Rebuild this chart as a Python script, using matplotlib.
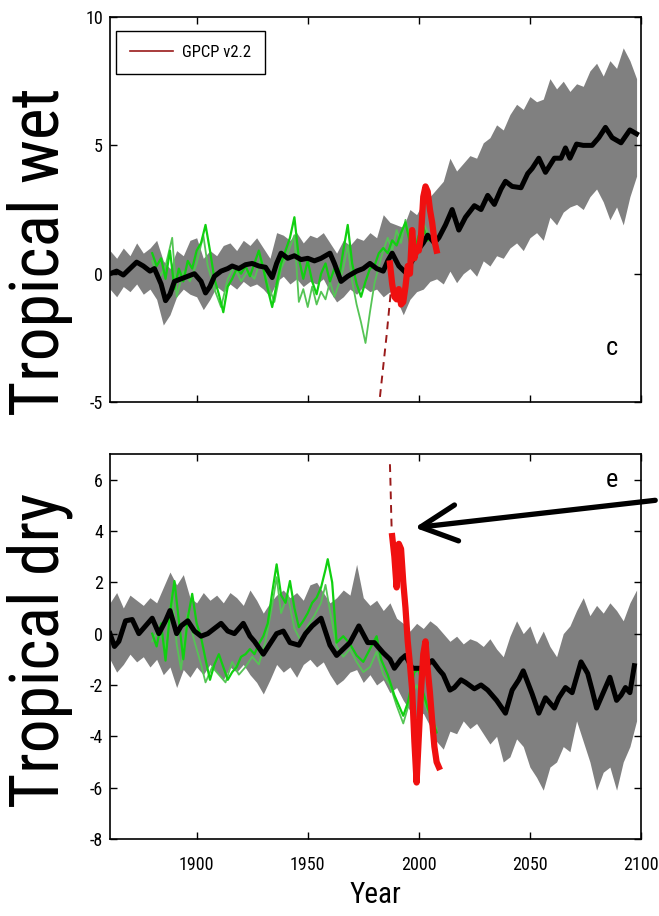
import numpy as np
import matplotlib
matplotlib.use('Agg')
import matplotlib.pyplot as plt
from matplotlib import font_manager
from matplotlib.patches import FancyArrowPatch

plt.rcParams['axes.unicode_minus'] = False

# The original uses a condensed Helvetica; take a narrow face when one is installed
names = {f.name for f in font_manager.fontManager.ttflist}
FONT = 'Liberation Sans'
for cand in ['Liberation Sans Narrow', 'Roboto Condensed', 'Archivo Narrow', 'Asap Condensed']:
    if cand in names:
        FONT = cand
        break
narrow = FONT != 'Liberation Sans'
TICK_FS = 13 if narrow else 12
YEAR_FS = 21 if narrow else 19
LEG_FS = 12 if narrow else 11
LET_FS = 19 if narrow else 17

# ---------------- data: tropical wet ----------------
band_years = list(range(1861, 2099, 3))

wet_upper = [0.9, 0.6, 1.0, 0.7, 1.2, 0.8, 1.0, 1.3, 0.5, 0.2, 0.9, 0.7, 1.3, 1.4, 0.6, 0.9,
             0.7, 1.1, 1.2, 0.9, 1.3, 1.1, 1.4, 1.0, 0.6, 1.6, 1.5, 1.3, 1.6, 1.2, 1.5, 1.4,
             1.6, 1.2, 0.8, 1.3, 1.1, 1.4, 1.3, 1.6, 1.4, 2.3, 2.0, 1.9, 1.8, 2.5, 2.3, 2.8,
             3.0, 3.3, 3.6, 4.5, 4.0, 4.3, 4.6, 4.5, 5.1, 5.3, 5.8, 5.6, 6.2, 6.6, 6.4, 6.9,
             6.7, 6.8, 7.6, 7.2, 7.5, 7.1, 7.4, 7.3, 7.9, 8.2, 7.7, 8.3, 8.0, 8.8, 8.3, 7.6]
wet_lower = [-0.6, -0.9, -0.5, -0.7, -0.4, -0.8, -0.6, -1.0, -2.0, -1.6, -0.9, -0.6, -0.8, -0.9,
             -1.4, -1.0, -0.5, -0.7, -0.4, -0.6, -0.3, -0.5, -0.4, -0.6, -0.9, -0.3, -0.1, -0.4,
             -0.2, -0.5, -0.3, -0.4, -0.2, -0.7, -1.1, -0.9, -0.6, -0.8, -0.5, -0.7, -0.6, -0.9,
             -0.7, -1.0, -1.6, -1.0, -0.7, -0.6, -0.3, -0.2, -0.4, 0.1, -0.35, 0.0, 0.2, -0.1,
             0.5, 0.3, 0.7, 0.6, 1.0, 1.2, 0.9, 1.4, 1.6, 1.3, 2.2, 1.9, 2.4, 2.6, 2.7, 2.5,
             3.0, 3.3, 2.8, 2.1, 2.6, 1.9, 3.0, 3.8]

wet_mean_years = [1861, 1864, 1867, 1870, 1873, 1876, 1879, 1881, 1884, 1886, 1888, 1890, 1893,
                  1896, 1899, 1902, 1904, 1906, 1908, 1911, 1914, 1916, 1919, 1922, 1925, 1928,
                  1931, 1934, 1936, 1938, 1941, 1944, 1947, 1950, 1953, 1956, 1960, 1962, 1965,
                  1968, 1972, 1975, 1978, 1981, 1984, 1986, 1988, 1991, 1994, 1997, 1999, 2002,
                  2004, 2007, 2009, 2012, 2015, 2018, 2021, 2025, 2028, 2031, 2034, 2037, 2039,
                  2042, 2046, 2049, 2051, 2054, 2057, 2061, 2064, 2066, 2068, 2071, 2074, 2078,
                  2081, 2084, 2087, 2091, 2095, 2098]
wet_mean = [0.0, 0.1, -0.05, 0.2, 0.45, 0.3, 0.1, 0.2, -0.4, -1.05, -0.8, -0.3, -0.2, -0.1, 0.0,
            -0.3, -0.75, -0.5, -0.1, 0.1, 0.2, 0.3, 0.2, 0.35, 0.4, 0.3, 0.25, -0.15, 0.4, 0.8,
            0.6, 0.7, 0.55, 0.6, 0.5, 0.6, 0.8, 0.4, -0.3, -0.1, 0.1, 0.2, 0.4, 0.2, 0.1, 0.5,
            0.8, 0.3, 0.05, 0.5, 0.85, 1.2, 1.5, 1.2, 1.4, 1.9, 2.5, 1.7, 2.2, 2.65, 2.5, 3.05,
            2.7, 3.3, 3.6, 3.4, 3.35, 3.9, 4.1, 4.5, 3.95, 4.5, 4.5, 4.9, 4.5, 5.05, 5.0, 5.0,
            5.3, 5.7, 5.3, 5.1, 5.6, 5.45]

wet_obs_a_years = list(range(1880, 2005, 2))
wet_obs_a = [0.8, 0.3, 0.6, -0.2, 0.9, -0.6, 0.2, -0.3, 0.5, 0.2, 0.9, 1.2, 1.9, 0.9, -0.2, -0.8,
             -1.5, -0.5, -0.2, 0.2, 0.0, 0.3, -0.1, 0.4, 0.9, 0.2, -0.6, -1.3, -0.4, 0.4, 0.9,
             1.4, 2.2, 0.6, -0.2, 0.5, -0.3, -0.8, 0.0, 0.4, -0.3, 0.2, -0.2, 0.9, 1.9, 0.4,
             -0.4, -0.9, -0.3, 0.2, 0.3, 0.8, 1.0, 0.8, 1.3, 1.1, 1.6, 2.0, 1.2, 0.9, 1.5, 1.8, 1.3]
wet_obs_b_years = [1880, 1883, 1886, 1889, 1891, 1894, 1897, 1900, 1903, 1905, 1908, 1911, 1914,
                   1917, 1920, 1923, 1926, 1929, 1932, 1935, 1938, 1941, 1944, 1946, 1948, 1950,
                   1952, 1954, 1956, 1958, 1960, 1962, 1964, 1966, 1968, 1970, 1972, 1974, 1976,
                   1978, 1980, 1982, 1984, 1986, 1988, 1990, 1992, 1994, 1996, 1998, 2000, 2002, 2004]
wet_obs_b = [0.5, -0.2, 0.3, 1.4, -0.9, 0.1, -0.3, 0.4, 1.5, 0.3, -0.6, -1.3, -0.2, 0.3, -0.3,
             0.1, -0.2, 0.6, -0.4, -1.1, 0.2, 0.8, 1.5, -1.1, -0.6, -1.3, -0.5, -1.2, -0.7, -1.0,
             -0.3, -0.9, -0.4, 0.2, 1.1, -0.3, -1.2, -1.9, -2.7, -1.5, -0.4, 0.3, 0.9, 1.4, 0.9,
             1.7, 1.2, 2.1, 1.4, 0.7, 1.2, 2.0, 1.6]

wet_gpcp_years = list(range(1987, 2009))
wet_gpcp = [0.4, -0.4, -0.9, -1.0, -0.6, -1.2, -1.1, -0.5, 0.3, 0.0, 1.7, 0.6, 1.0, 0.9, 1.5,
            3.0, 3.4, 3.2, 2.5, 2.0, 1.3, 0.9]
wet_early_years = [1982.5, 1983.5, 1984.5, 1985.5, 1986.5, 1987.5]
wet_early = [-4.8, -4.0, -3.2, -2.4, -1.5, -0.6]

# ---------------- data: tropical dry ----------------
dry_upper = [1.2, 1.6, 1.0, 1.5, 1.3, 1.1, 1.4, 1.2, 1.8, 2.4, 1.9, 2.3, 1.4, 1.2, 1.6, 1.3,
             1.5, 1.2, 1.6, 1.4, 1.1, 1.7, 1.3, 0.8, 1.2, 1.5, 1.7, 1.4, 1.6, 1.3, 1.9, 2.0,
             1.6, 1.2, 1.4, 1.7, 1.5, 2.7, 1.4, 1.1, 1.3, 0.9, 1.2, 0.6, 0.4, 0.1, 0.4, 0.2,
             0.5, 0.3, 0.0, -0.3, -0.1, -0.4, -0.2, -0.3, -0.5, -0.2, -0.6, -0.9, -0.1, 0.5,
             0.0, 0.3, -0.4, 0.1, -0.5, -0.9, 0.0, 0.3, 0.9, 1.4, 0.7, 1.1, 0.8, 1.2, 0.9, 0.5,
             1.2, 1.7]
dry_lower = [-1.0, -1.5, -1.2, -0.8, -1.1, -0.9, -1.3, -1.0, -1.6, -1.3, -2.1, -1.4, -1.7, -1.3,
             -1.6, -1.2, -1.5, -1.8, -1.3, -1.5, -1.2, -1.6, -1.9, -2.35, -1.8, -1.2, -1.5, -1.3,
             -1.7, -1.2, -1.0, -1.3, -1.1, -1.6, -2.0, -1.8, -1.5, -1.4, -1.9, -1.6, -2.0, -1.8,
             -2.3, -2.1, -2.6, -3.0, -3.3, -3.1, -3.6, -4.2, -4.5, -3.8, -3.9, -3.4, -3.7, -3.5,
             -3.9, -4.3, -4.0, -5.0, -4.8, -4.1, -4.4, -5.2, -5.6, -6.1, -5.2, -5.0, -4.4, -4.6,
             -3.4, -4.2, -5.0, -6.1, -5.4, -5.2, -6.1, -5.0, -4.4, -3.4]

dry_mean_years = [1861, 1863, 1865, 1868, 1871, 1874, 1877, 1880, 1883, 1886, 1888, 1891, 1893,
                  1896, 1899, 1902, 1905, 1908, 1911, 1914, 1917, 1921, 1924, 1926, 1930, 1933,
                  1936, 1939, 1942, 1946, 1949, 1952, 1956, 1960, 1963, 1966, 1969, 1973, 1977,
                  1980, 1984, 1987, 1989, 1992, 1994, 1997, 2002, 2006, 2009, 2011, 2014, 2016,
                  2019, 2021, 2025, 2028, 2031, 2035, 2039, 2042, 2045, 2047, 2049, 2051, 2054,
                  2057, 2061, 2063, 2066, 2069, 2073, 2076, 2078, 2080, 2083, 2086, 2089, 2091,
                  2093, 2095, 2097]
dry_mean = [0.0, -0.5, -0.3, 0.5, 0.55, 0.0, 0.3, 0.6, 0.0, 0.5, 0.9, 0.0, 0.3, 0.5, 0.1, -0.1,
            0.0, 0.2, 0.4, 0.1, 0.0, 0.4, -0.1, -0.3, -0.8, -0.4, 0.0, 0.1, -0.35, -0.45, 0.0,
            0.3, 0.6, -0.45, -0.85, -0.6, -0.35, 0.3, -0.35, -0.35, -0.75, -1.0, -1.35, -1.0,
            -0.85, -1.35, -1.35, -1.05, -1.4, -1.6, -2.2, -2.1, -1.8, -1.9, -2.15, -2.0, -2.2,
            -2.6, -3.1, -2.2, -1.8, -1.45, -1.9, -2.35, -3.1, -2.5, -2.9, -2.5, -2.1, -2.3, -1.1,
            -1.55, -2.2, -2.9, -2.3, -1.7, -2.6, -2.4, -2.1, -2.3, -1.25]

dry_obs_a_years = [1880, 1882, 1884, 1886, 1888, 1890, 1892, 1894, 1896, 1898, 1900, 1902, 1904,
                   1906, 1908, 1910, 1912, 1914, 1916, 1918, 1920, 1922, 1924, 1926, 1928, 1930,
                   1932, 1934, 1936, 1938, 1940, 1942, 1944, 1946, 1948, 1950, 1952, 1954, 1956,
                   1958, 1959, 1961, 1963, 1966, 1969, 1972, 1975, 1978, 1981, 1983, 1986, 1989,
                   1991, 1993, 1995, 1998, 2000, 2002, 2004, 2006, 2008]
dry_obs_a = [0.0, -0.5, 0.4, -1.05, 0.8, 2.05, 0.5, -1.0, 0.6, 1.55, 0.4, -0.15, -1.0, -1.8,
             -1.2, -0.8, -1.3, -1.8, -1.5, -1.3, -0.9, -0.8, -0.6, -0.8, -0.4, -0.1, 0.4, 1.6,
             2.7, 1.5, 1.2, 2.05, 1.0, 0.25, 0.5, 0.8, 1.2, 1.4, 1.8, 2.5, 2.9, 2.0, -0.35,
             -0.1, -0.4, -0.85, -1.1, -0.6, -0.1, -1.0, -1.6, -2.4, -2.8, -3.2, -2.7, -1.5, -1.4,
             -2.3, -2.9, -3.3, -3.85]
dry_obs_b_years = [1880, 1883, 1886, 1889, 1891, 1893, 1896, 1899, 1902, 1904, 1907, 1910, 1913,
                   1916, 1919, 1922, 1925, 1928, 1931, 1934, 1936, 1938, 1941, 1944, 1947, 1950,
                   1953, 1956, 1958, 1960, 1963, 1966, 1969, 1972, 1975, 1978, 1981, 1984, 1987,
                   1990, 1993, 1996, 1999, 2002, 2005, 2008]
dry_obs_b = [-0.3, 0.2, -0.6, 1.6, -0.4, -1.4, 0.8, -0.3, -1.2, -1.9, -1.3, -1.6, -1.9, -1.1,
             -1.6, -1.3, -0.9, -1.2, -0.3, 1.1, 2.2, 0.8, 1.5, 0.2, -0.3, 0.3, 0.7, 1.2, 1.9,
             0.9, -0.5, -0.9, -0.6, -1.1, -1.5, -1.3, -0.7, -1.6, -2.0, -2.8, -3.5, -2.6, -2.0,
             -2.6, -3.2, -3.7]

dry_gpcp_years = list(range(1988, 2010))
dry_gpcp = [3.8, 3.0, 1.8, 3.5, 3.3, 2.0, 1.0, -0.3, -1.2, -2.2, -4.2, -5.8, -4.0, -2.2, -0.8,
            -0.3, -1.4, -2.3, -3.4, -4.4, -5.0, -5.2]
dry_early_years = [1987.0, 1987.2, 1987.4, 1987.6, 1987.8]
dry_early = [6.6, 6.0, 5.3, 4.6, 4.0]

x_ticks = [1900, 1950, 2000, 2050, 2100]

# ---------------- plotting ----------------
fig = plt.figure(figsize=(6.59, 9.16), dpi=100)
fig.patch.set_facecolor('white')

ax1 = fig.add_axes([0.1669, 0.5611, 0.8058, 0.4203])
ax2 = fig.add_axes([0.1669, 0.0841, 0.8058, 0.4203])

GREY = '#808080'
GREEN_A = '#10d010'
GREEN_B = '#55c455'
RED = '#f01010'
DARKRED = '#9a1a1a'


def draw_panel(ax, upper, lower, my, mv, ay, av, by, bv, gy, gv, ey, ev):
    ax.fill_between(band_years, lower, upper, color=GREY, lw=0, zorder=1)
    ax.plot(by, bv, color=GREEN_B, lw=1.3, zorder=2)
    ax.plot(ay, av, color=GREEN_A, lw=1.6, zorder=2)
    ax.plot(my, mv, color='black', lw=3.6, zorder=3)
    ax.plot(ey, ev, color=DARKRED, lw=1.4, ls=(0, (4, 3)), zorder=4)
    ax.plot(gy, gv, color=RED, lw=4.5, zorder=4)


draw_panel(ax1, wet_upper, wet_lower, wet_mean_years, wet_mean,
           wet_obs_a_years, wet_obs_a, wet_obs_b_years, wet_obs_b,
           wet_gpcp_years, wet_gpcp, wet_early_years, wet_early)
draw_panel(ax2, dry_upper, dry_lower, dry_mean_years, dry_mean,
           dry_obs_a_years, dry_obs_a, dry_obs_b_years, dry_obs_b,
           dry_gpcp_years, dry_gpcp, dry_early_years, dry_early)

# legend handle (GPCP line in dark red)
leg_line, = ax1.plot([], [], color=DARKRED, lw=1.2, label='GPCP v2.2')
leg = ax1.legend(handles=[leg_line], loc='upper left', bbox_to_anchor=(0.0113, 0.9636),
                 borderaxespad=0, fancybox=False, framealpha=1, edgecolor='black',
                 borderpad=0.85, handlelength=2.6, handletextpad=0.5,
                 prop={'family': FONT, 'size': LEG_FS})
leg.get_frame().set_linewidth(1.0)

for ax in (ax1, ax2):
    ax.set_xlim(1861, 2100)
    ax.set_xticks(x_ticks)
    ax.tick_params(direction='in', top=True, right=True, length=5, width=1,
                   labelsize=TICK_FS, pad=5)
    for sp in ax.spines.values():
        sp.set_linewidth(1.2)

ax1.set_ylim(-5, 10)
ax1.set_yticks([-5, 0, 5, 10])
ax1.tick_params(axis='x', labelbottom=False)

ax2.set_ylim(-8, 7)
ax2.set_yticks([-8, -6, -4, -2, 0, 2, 4, 6])
ax2.tick_params(axis='x', pad=12)

for ax in (ax1, ax2):
    for lab in ax.get_xticklabels() + ax.get_yticklabels():
        lab.set_fontfamily(FONT)

ax1.text(0.945, 0.14, 'c', transform=ax1.transAxes, ha='center', va='center',
         fontsize=LET_FS, family=FONT)
ax2.text(0.945, 0.932, 'e', transform=ax2.transAxes, ha='center', va='center',
         fontsize=LET_FS, family=FONT)

t_wet = fig.text(40 / 659, 1 - 252 / 916, 'Tropical wet', rotation=90, ha='center',
                 va='center', fontsize=45, family=FONT)
t_dry = fig.text(40 / 659, 1 - 650 / 916, 'Tropical dry', rotation=90, ha='center',
                 va='center', fontsize=45, family=FONT)
fig.text(375 / 659, 1 - 895 / 916, 'Year', ha='center', va='center',
         fontsize=YEAR_FS, family=FONT)

# scale the big side labels so that "Tropical wet" runs about 328 px, as in the original
fig.canvas.draw()
h = t_wet.get_window_extent().height
big = 45 * 328 / h
t_wet.set_fontsize(big)
t_dry.set_fontsize(big)

# arrow pointing at the early GPCP values
fig.patches.append(FancyArrowPatch(
    (658 / 659, 1 - 500 / 916), (412 / 659, 1 - 528 / 916),
    transform=fig.transFigure, arrowstyle='->,head_length=1.3,head_width=0.65',
    mutation_scale=20, lw=3.8, color='black', capstyle='round', joinstyle='round'))

fig.savefig('out.png', dpi=100, facecolor='white')
